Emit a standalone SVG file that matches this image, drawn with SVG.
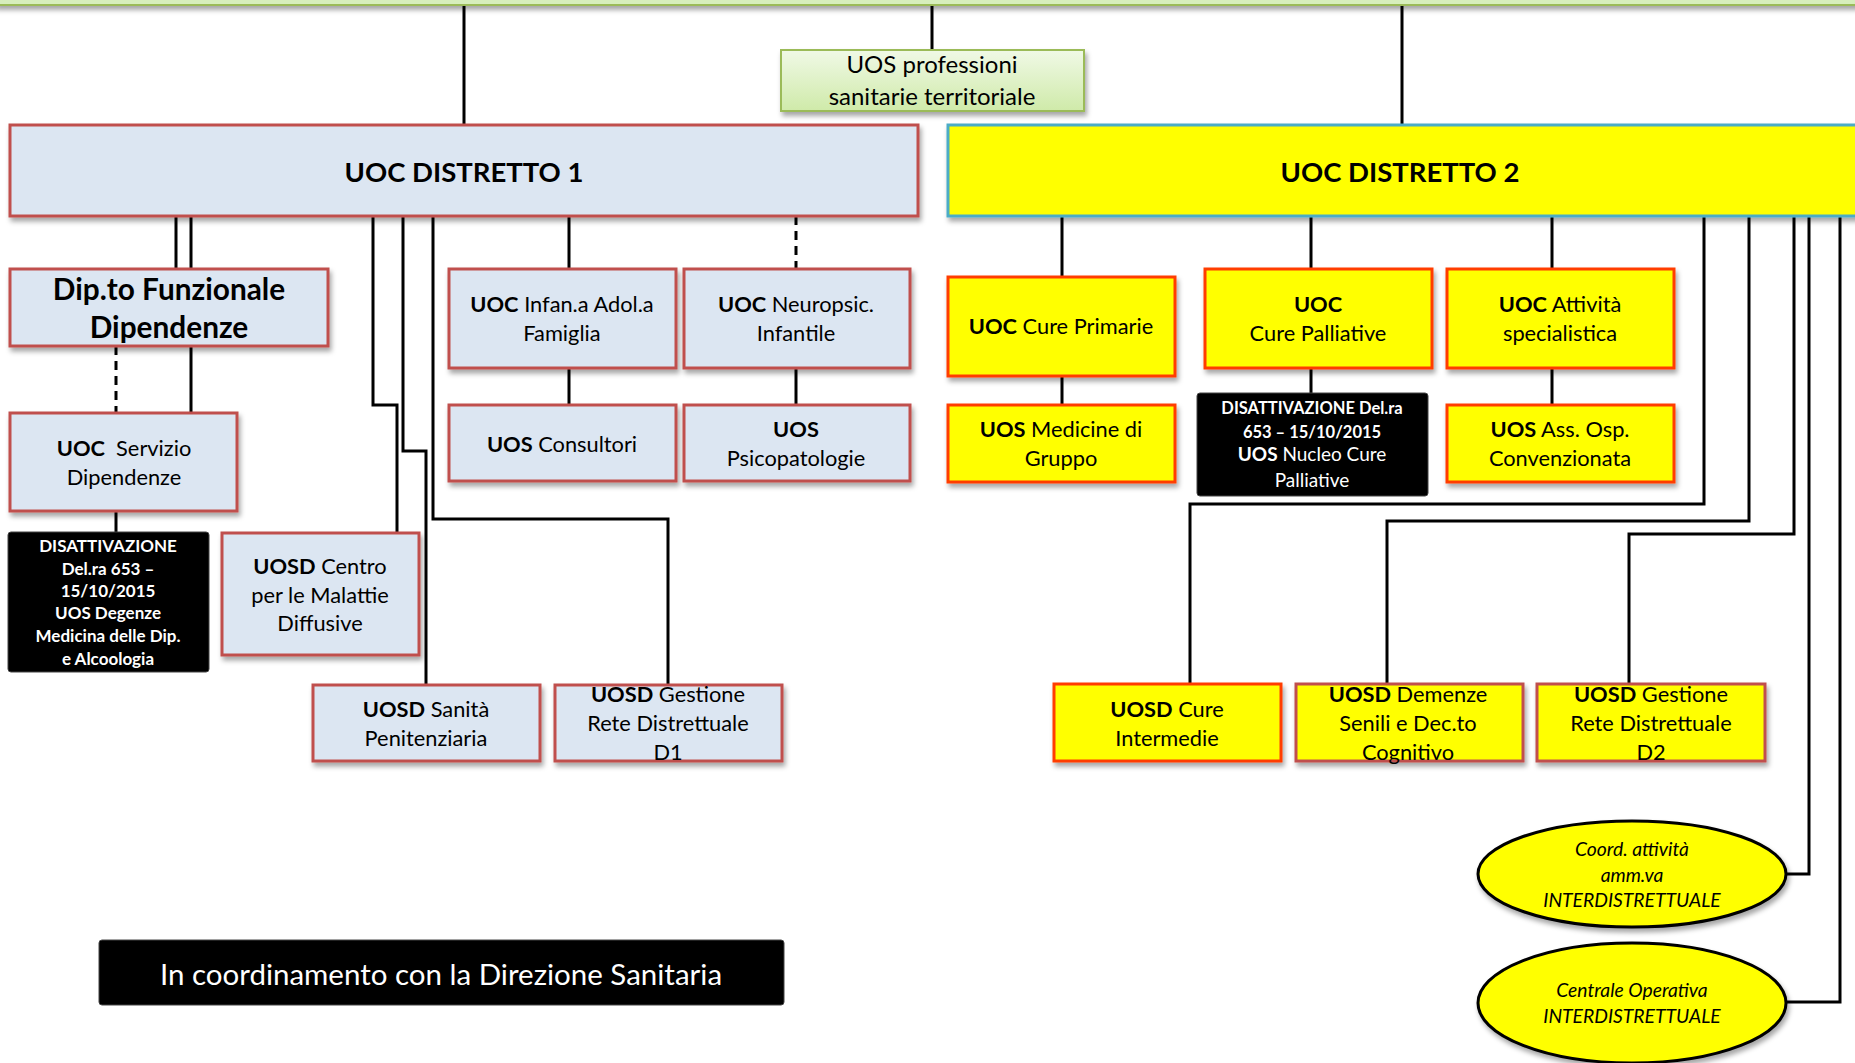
<svg xmlns="http://www.w3.org/2000/svg" width="1855" height="1063" viewBox="0 0 1855 1063">
<style>
text{font-family:Lato,"Open Sans","Liberation Sans",sans-serif;text-anchor:middle;fill:#000}
.t{font-size:21.8px}
.w{fill:#fff}
.b{font-weight:bold}
.i{font-style:italic;font-size:19.3px}
.blue{fill:#dce6f2;stroke:#c0504d;stroke-width:3}
.yel{fill:#ffff00;stroke:#ff3c00;stroke-width:3}
.yel2{fill:#ffff00;stroke:#c0504d;stroke-width:3}
.blk{fill:#000;stroke:#444;stroke-width:1}
.ln{fill:none;stroke:#000;stroke-width:3}
.dash{fill:none;stroke:#000;stroke-width:3;stroke-dasharray:9,6}
</style>
<defs>
<filter id="sh" x="-10%" y="-10%" width="130%" height="140%">
<feDropShadow dx="2" dy="4" stdDeviation="2.5" flood-color="#000" flood-opacity="0.35"/>
</filter>
<linearGradient id="gg" x1="0" y1="0" x2="0" y2="1">
<stop offset="0" stop-color="#f0f9e6"/>
<stop offset="1" stop-color="#cfeaa9"/>
</linearGradient>
</defs>
<rect width="1855" height="1063" fill="#fff"/>

<g id="connectors">
<path class="ln" d="M464 5V125M932 5V50M1402 5V125"/>
<path class="ln" d="M176 216V269M191 216V413"/>
<path class="dash" d="M116 346V413"/>
<path class="ln" d="M116 511V532"/>
<path class="ln" d="M373 216V405H397V533"/>
<path class="ln" d="M403 216V451H426V684"/>
<path class="ln" d="M433 216V519H668V684"/>
<path class="ln" d="M569 216V269M569 368V405"/>
<path class="dash" d="M796 216V269"/>
<path class="ln" d="M796 368V405"/>
<path class="ln" d="M1062 216V277M1062 376V405"/>
<path class="ln" d="M1311 216V269M1311 368V393"/>
<path class="ln" d="M1552 216V269M1552 368V405"/>
<path class="ln" d="M1704 216V504H1190V684"/>
<path class="ln" d="M1749 216V521H1387V684"/>
<path class="ln" d="M1794 216V534H1629V684"/>
<path class="ln" d="M1809 216V874H1786"/>
<path class="ln" d="M1840 216V1002H1786"/>
</g>

<g id="top-bar">
<rect x="-5" y="-30" width="1870" height="35" fill="#d7eebc" stroke="#9bbb59" stroke-width="2" filter="url(#sh)"/>
</g>

<g id="uos-professioni">
<rect x="781" y="50" width="303" height="61" fill="url(#gg)" stroke="#9bbb59" stroke-width="2" filter="url(#sh)"/>
<text x="932" y="73" style="font-size:24px">UOS professioni</text>
<text x="932" y="105" style="font-size:24px">sanitarie territoriale</text>
</g>

<g id="distretto1">
<rect class="blue" x="10" y="125" width="908" height="91" filter="url(#sh)"/>
<text class="b" x="464" y="182" style="font-size:27.5px">UOC DISTRETTO 1</text>
</g>

<g id="distretto2">
<rect x="948" y="125" width="920" height="91" fill="#ffff00" stroke="#4bacc6" stroke-width="3" filter="url(#sh)"/>
<text class="b" x="1400" y="182" style="font-size:27.5px">UOC DISTRETTO 2</text>
</g>

<g id="dip-funzionale">
<rect class="blue" x="10" y="269" width="318" height="77" filter="url(#sh)"/>
<text class="b" x="169" y="300" style="font-size:29.8px">Dip.to Funzionale</text>
<text class="b" x="169" y="338" style="font-size:29.8px">Dipendenze</text>
</g>

<g id="uoc-servizio-dipendenze">
<rect class="blue" x="10" y="413" width="227" height="98" filter="url(#sh)"/>
<text class="t" x="124" y="456"><tspan class="b">UOC</tspan>&#160; Servizio</text>
<text class="t" x="124" y="485">Dipendenze</text>
</g>

<g id="disatt-degenze">
<rect class="blk" x="8" y="532" width="201" height="140" rx="3"/>
<text class="w b" x="108" y="552" style="font-size:17px">DISATTIVAZIONE</text>
<text class="w b" x="108" y="575" style="font-size:17px">Del.ra 653 –</text>
<text class="w b" x="108" y="597" style="font-size:17px">15/10/2015</text>
<text class="w b" x="108" y="619" style="font-size:17px">UOS Degenze</text>
<text class="w b" x="108" y="642" style="font-size:17px">Medicina delle Dip.</text>
<text class="w b" x="108" y="665" style="font-size:17px">e Alcoologia</text>
</g>

<g id="uosd-centro">
<rect class="blue" x="222" y="533" width="197" height="122" filter="url(#sh)"/>
<text class="t" x="320" y="574"><tspan class="b">UOSD</tspan> Centro</text>
<text class="t" x="320" y="603">per le Malattie</text>
<text class="t" x="320" y="631">Diffusive</text>
</g>

<g id="uosd-sanita">
<rect class="blue" x="313" y="685" width="227" height="76" filter="url(#sh)"/>
<text class="t" x="426" y="717"><tspan class="b">UOSD</tspan> Sanità</text>
<text class="t" x="426" y="746">Penitenziaria</text>
</g>

<g id="uosd-gestione-d1">
<rect class="blue" x="555" y="685" width="227" height="76" filter="url(#sh)"/>
<text class="t" x="668" y="702"><tspan class="b">UOSD</tspan> Gestione</text>
<text class="t" x="668" y="731">Rete Distrettuale</text>
<text class="t" x="668" y="760">D1</text>
</g>

<g id="uoc-infanzia">
<rect class="blue" x="449" y="269" width="227" height="99" filter="url(#sh)"/>
<text class="t" x="562" y="312"><tspan class="b">UOC</tspan> Infan.a Adol.a</text>
<text class="t" x="562" y="341">Famiglia</text>
</g>

<g id="uos-consultori">
<rect class="blue" x="449" y="405" width="227" height="76" filter="url(#sh)"/>
<text class="t" x="562" y="452"><tspan class="b">UOS</tspan> Consultori</text>
</g>

<g id="uoc-neuropsic">
<rect class="blue" x="684" y="269" width="226" height="99" filter="url(#sh)"/>
<text class="t" x="796" y="312"><tspan class="b">UOC</tspan> Neuropsic.</text>
<text class="t" x="796" y="341">Infantile</text>
</g>

<g id="uos-psicopatologie">
<rect class="blue" x="684" y="405" width="226" height="76" filter="url(#sh)"/>
<text class="t b" x="796" y="437">UOS</text>
<text class="t" x="796" y="466">Psicopatologie</text>
</g>

<g id="uoc-cure-primarie">
<rect class="yel" x="948" y="277" width="227" height="99" filter="url(#sh)"/>
<text class="t" x="1061" y="334"><tspan class="b">UOC</tspan> Cure Primarie</text>
</g>

<g id="uos-medicine">
<rect class="yel" x="948" y="405" width="227" height="77" filter="url(#sh)"/>
<text class="t" x="1061" y="437"><tspan class="b">UOS</tspan> Medicine di</text>
<text class="t" x="1061" y="466">Gruppo</text>
</g>

<g id="uoc-cure-palliative">
<rect class="yel" x="1205" y="269" width="227" height="99" filter="url(#sh)"/>
<text class="t b" x="1318" y="312">UOC</text>
<text class="t" x="1318" y="341">Cure Palliative</text>
</g>

<g id="disatt-nucleo">
<rect class="blk" x="1197" y="393" width="231" height="103" rx="3"/>
<text class="w b" x="1312" y="414" style="font-size:16.5px">DISATTIVAZIONE Del.ra</text>
<text class="w b" x="1312" y="438" style="font-size:16.5px">653 – 15/10/2015</text>
<text class="w" x="1312" y="461" style="font-size:19px"><tspan class="b">UOS</tspan> Nucleo Cure</text>
<text class="w" x="1312" y="487" style="font-size:19px">Palliative</text>
</g>

<g id="uoc-attivita">
<rect class="yel" x="1447" y="269" width="227" height="99" filter="url(#sh)"/>
<text class="t" x="1560" y="312"><tspan class="b">UOC</tspan> Attività</text>
<text class="t" x="1560" y="341">specialistica</text>
</g>

<g id="uos-ass-osp">
<rect class="yel" x="1447" y="405" width="227" height="77" filter="url(#sh)"/>
<text class="t" x="1560" y="437"><tspan class="b">UOS</tspan> Ass. Osp.</text>
<text class="t" x="1560" y="466">Convenzionata</text>
</g>

<g id="uosd-cure-intermedie">
<rect class="yel" x="1054" y="684" width="227" height="77" filter="url(#sh)"/>
<text class="t" x="1167" y="717"><tspan class="b">UOSD</tspan> Cure</text>
<text class="t" x="1167" y="746">Intermedie</text>
</g>

<g id="uosd-demenze">
<rect class="yel2" x="1296" y="684" width="227" height="77" filter="url(#sh)"/>
<text class="t" x="1408" y="702"><tspan class="b">UOSD</tspan> Demenze</text>
<text class="t" x="1408" y="731">Senili e Dec.to</text>
<text class="t" x="1408" y="760">Cognitivo</text>
</g>

<g id="uosd-gestione-d2">
<rect class="yel2" x="1537" y="684" width="228" height="77" filter="url(#sh)"/>
<text class="t" x="1651" y="702"><tspan class="b">UOSD</tspan> Gestione</text>
<text class="t" x="1651" y="731">Rete Distrettuale</text>
<text class="t" x="1651" y="760">D2</text>
</g>

<g id="coord-amm">
<ellipse cx="1632" cy="874" rx="154" ry="53" fill="#ffff00" stroke="#000" stroke-width="3" filter="url(#sh)"/>
<text class="i" x="1632" y="856">Coord. attività</text>
<text class="i" x="1632" y="882">amm.va</text>
<text class="i" x="1632" y="907">INTERDISTRETTUALE</text>
</g>

<g id="centrale-operativa">
<ellipse cx="1632" cy="1003" rx="154" ry="60" fill="#ffff00" stroke="#000" stroke-width="3" filter="url(#sh)"/>
<text class="i" x="1632" y="997">Centrale Operativa</text>
<text class="i" x="1632" y="1023">INTERDISTRETTUALE</text>
</g>

<g id="coordinamento">
<rect class="blk" x="99" y="940" width="685" height="65" rx="3"/>
<text class="w" x="441" y="985" style="font-size:29.5px">In coordinamento con la Direzione Sanitaria</text>
</g>
</svg>
